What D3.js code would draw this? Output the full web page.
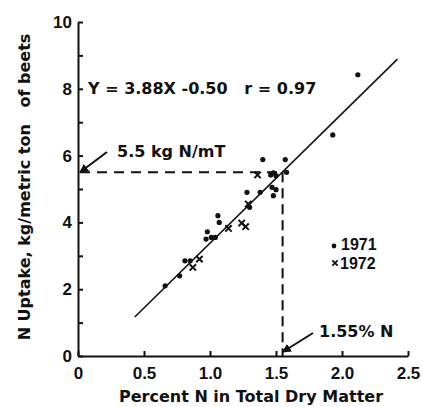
<!DOCTYPE html>
<html>
<head>
<meta charset="utf-8">
<script src="https://cdn.jsdelivr.net/npm/d3@7"></script>
<style>
  body { margin: 0; background: #fff; }
  #chart { width: 422px; height: 407px; }
  text { font-family: "DejaVu Sans", sans-serif; font-weight: bold; fill: #111; }
  .axis path, .axis line { stroke: #111; stroke-width: 2; }
  .axis text { font-family: "Liberation Sans", Arial, sans-serif; font-size: 17px; }
  .legend { font-family: "Liberation Sans", Arial, sans-serif; font-size: 16px; }
</style>
</head>
<body>
<div id="chart"></div>
<script>
// 1971 samples (dots)
const dots1971 = [
  [0.66, 2.1], [0.77, 2.4], [0.81, 2.85], [0.85, 2.85], [0.97, 3.5], [0.98, 3.72],
  [1.01, 3.55], [1.04, 3.55], [1.06, 4.2], [1.07, 4.0], [1.28, 4.9], [1.30, 4.45],
  [1.38, 4.9], [1.40, 5.88], [1.46, 5.42], [1.48, 5.48], [1.50, 5.4], [1.47, 5.05],
  [1.50, 4.98], [1.48, 4.8], [1.57, 5.88], [1.58, 5.5], [1.93, 6.62], [2.12, 8.42]
];
// 1972 samples (crosses)
const crosses1972 = [
  [0.87, 2.65], [0.92, 2.9], [1.14, 3.82], [1.24, 3.98], [1.27, 3.87], [1.29, 4.55], [1.36, 5.42]
];
const xTicks = [0, 0.5, 1.0, 1.5, 2.0, 2.5];
const yTicks = [0, 1, 2, 3, 4, 5, 6, 7, 8, 9, 10];
const yLabels = ["0", "", "2", "", "4", "", "6", "", "8", "", "10"];
const fitRange = [0.43, 2.42];   // regression Y = 3.88X - 0.50
const slope = 3.88, intercept = -0.50;
const target = {x: 1.55, y: 5.5};

const width = 422, height = 407;
const margin = {top: 22, left: 78, right: 14, bottom: 51};

const svg = d3.select("#chart").append("svg")
    .attr("width", width)
    .attr("height", height);

const x = d3.scaleLinear().domain([0, 2.5]).range([margin.left, width - margin.right]);
const y = d3.scaleLinear().domain([0, 10]).range([height - margin.bottom, margin.top]);

svg.append("g")
    .attr("class", "axis")
    .attr("transform", `translate(0,${y(0)})`)
    .call(d3.axisBottom(x).tickValues(xTicks).tickSize(-5).tickSizeOuter(0).tickPadding(11)
        .tickFormat(d => d === 0 ? "0" : d3.format(".1f")(d)));

svg.append("g")
    .attr("class", "axis")
    .attr("transform", `translate(${x(0)},0)`)
    .call(d3.axisLeft(y).tickValues(yTicks).tickSize(-5).tickSizeOuter(0).tickPadding(6)
        .tickFormat((d, i) => yLabels[i]));

// dashed guide lines
svg.append("path")
    .attr("d", `M${x(0) + 2},${y(target.y)}H${x(target.x)}`)
    .attr("stroke", "#111").attr("stroke-width", 2).attr("stroke-dasharray", "10,7").attr("fill", "none");
svg.append("path")
    .attr("d", `M${x(target.x)},${y(target.y)}V${y(0)}`)
    .attr("stroke", "#111").attr("stroke-width", 2).attr("stroke-dasharray", "10,6").attr("fill", "none");

// regression line
svg.append("line")
    .attr("x1", x(fitRange[0])).attr("y1", y(slope * fitRange[0] + intercept))
    .attr("x2", x(fitRange[1])).attr("y2", y(slope * fitRange[1] + intercept))
    .attr("stroke", "#111").attr("stroke-width", 1.6);

svg.selectAll(".dot")
    .data(dots1971)
    .enter()
    .append("circle")
        .attr("class", "dot")
        .attr("cx", d => x(d[0]))
        .attr("cy", d => y(d[1]))
        .attr("r", 2.6)
        .attr("fill", "#111");

const cross = d3.symbol().type(d3.symbolX).size(28);
svg.selectAll(".cross")
    .data(crosses1972)
    .enter()
    .append("path")
        .attr("class", "cross")
        .attr("transform", d => `translate(${x(d[0])},${y(d[1])})`)
        .attr("d", cross)
        .attr("stroke", "#111").attr("stroke-width", 2).attr("fill", "none");

// arrows
svg.append("defs").append("marker")
    .attr("id", "head")
    .attr("viewBox", "0 0 10 10")
    .attr("refX", 9).attr("refY", 5)
    .attr("markerWidth", 9).attr("markerHeight", 9)
    .attr("markerUnits", "userSpaceOnUse")
    .attr("orient", "auto")
  .append("path")
    .attr("d", "M0,0L10,5L0,10Z")
    .attr("fill", "#111");

svg.append("line")
    .attr("x1", 107).attr("y1", 152)
    .attr("x2", x(0) + 2).attr("y2", y(target.y))
    .attr("stroke", "#111").attr("stroke-width", 2).attr("marker-end", "url(#head)");
svg.append("line")
    .attr("x1", 313).attr("y1", 333)
    .attr("x2", x(target.x)).attr("y2", y(0) - 4)
    .attr("stroke", "#111").attr("stroke-width", 2).attr("marker-end", "url(#head)");

// annotations
svg.append("text").attr("x", 88).attr("y", 94).style("font-size", "16px")
    .attr("xml:space", "preserve")
    .text("Y = 3.88X -0.50   r = 0.97");
svg.append("text").attr("x", 117).attr("y", 157).style("font-size", "16px")
    .text("5.5 kg N/mT");
svg.append("text").attr("x", 319).attr("y", 337).style("font-size", "16px")
    .text("1.55% N");

// legend
svg.append("circle").attr("cx", 334).attr("cy", 246).attr("r", 2.4).attr("fill", "#111");
svg.append("text").attr("class", "legend").attr("x", 341).attr("y", 250).text("1971");
svg.append("path").attr("transform", "translate(335,263)").attr("d", d3.symbol().type(d3.symbolX).size(20))
    .attr("stroke", "#111").attr("stroke-width", 1.8).attr("fill", "none");
svg.append("text").attr("class", "legend").attr("x", 340).attr("y", 269).text("1972");

// axis titles
svg.append("text")
    .attr("x", 251).attr("y", 402)
    .attr("text-anchor", "middle")
    .style("font-size", "16px")
    .text("Percent N in Total Dry Matter");

svg.append("text")
    .attr("transform", "translate(30,187) rotate(-90)")
    .attr("text-anchor", "middle")
    .attr("xml:space", "preserve")
    .style("font-size", "16px")
    .text("N Uptake, kg/metric ton   of beets");
</script>
</body>
</html>
